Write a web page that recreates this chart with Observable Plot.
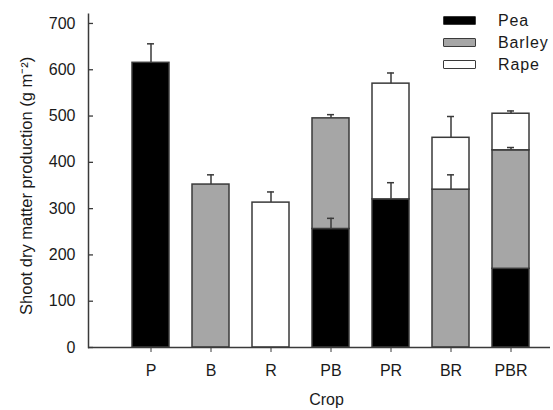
<!DOCTYPE html>
<html><head><meta charset="utf-8">
<script src="https://cdn.jsdelivr.net/npm/d3@7"></script>
<script src="https://cdn.jsdelivr.net/npm/@observablehq/plot@0.6"></script>
<style>
body{margin:0;background:#fff;}
#wrap{position:relative;width:553px;height:410px;font-family:"Liberation Sans",Arial,sans-serif;color:#1a1a1a;}
.sw{position:absolute;left:443px;width:31px;height:7px;border:1.5px solid #3a3a3a;border-radius:1px;}
.lt{position:absolute;left:498px;font-size:16px;line-height:16px;letter-spacing:0.9px;}
</style></head><body><div id="wrap"></div>
<script>
const crops = ["P","B","R","PB","PR","BR","PBR"];
const species = ["Pea","Barley","Rape"];
const colors = ["#000000","#a6a6a6","#ffffff"];
const pea    = [615,   0,   0, 256, 320,   0, 170];
const barley = [  0, 352,   0, 239,   0, 341, 256];
const rape   = [  0,   0, 313,   0, 250, 112,  79];
const peaErr    = [41,  0,  0, 23, 36,  0, 0];
const barleyErr = [ 0, 21,  0,  8,  0, 32, 6];
const rapeErr   = [ 0,  0, 23,  0, 23, 46, 6];
const yTicks = [0,100,200,300,400,500,600,700];

const vals = [pea, barley, rape];
const errsArr = [peaErr, barleyErr, rapeErr];
const segs = [], errs = [];
crops.forEach((c, i) => {
  let cum = 0;
  species.forEach((s, k) => {
    const v = vals[k][i];
    if (v > 0) {
      segs.push({crop: c, species: s, value: v});
      cum += v;
      if (errsArr[k][i] > 0) errs.push({crop: c, top: cum, err: errsArr[k][i]});
    }
  });
});

const W = 553, H = 410, ML = 88, MR = 3;
const stroke = "#3a3a3a";
const chart = Plot.plot({
  width: W, height: H,
  marginLeft: ML, marginRight: MR, marginTop: 13.7, marginBottom: 63,
  style: {fontFamily: "Liberation Sans, Arial, sans-serif", fontSize: "16px", color: "#1a1a1a", background: "#fff"},
  x: {domain: crops, range: [119, 541], paddingInner: 0.39, paddingOuter: 0.195, label: null},
  y: {domain: [0, 720], label: null},
  color: {domain: species, range: colors},
  marks: [
    Plot.barY(segs, {x: "crop", y: "value", fill: "species", stroke: stroke, strokeWidth: 1.5}),
    Plot.ruleX(errs, {x: "crop", y1: "top", y2: d => d.top + d.err, stroke: stroke, strokeWidth: 1.5}),
    Plot.tickY(errs, {x: "crop", y: d => d.top + d.err, insetLeft: 15, insetRight: 15, stroke: stroke, strokeWidth: 1.5}),
    Plot.ruleY(yTicks, {insetRight: W - ML - MR - 5, stroke: stroke, strokeWidth: 1.3}),
    Plot.ruleY([0], {stroke: stroke, strokeWidth: 1.5}),
    Plot.frame({anchor: "left", stroke: stroke, strokeWidth: 1.5}),
    Plot.axisY({ticks: yTicks, tickSize: 0, tickPadding: 13, label: null, fontSize: 16}),
    Plot.axisX({tickSize: 5, tickPadding: 12, label: null, stroke: stroke, fontSize: 16, style: {letterSpacing: "0.6px"}}),
    Plot.text(["Crop"], {frameAnchor: "bottom", dx: 7, dy: 57, fontSize: 16}),
    Plot.text(["Shoot dry matter production (g m\u207B\u00B2)"], {frameAnchor: "left", textAnchor: "middle", rotate: -90, dx: -62, dy: 5, fontSize: 16.5, style: {letterSpacing: "1.45px"}})
  ]
});
const wrap = document.getElementById("wrap");
wrap.appendChild(chart);
const tops = [16, 38, 60];
species.forEach((s, k) => {
  const sw = document.createElement("div");
  sw.className = "sw"; sw.style.top = tops[k] + "px"; sw.style.background = colors[k];
  wrap.appendChild(sw);
  const t = document.createElement("div");
  t.className = "lt"; t.style.top = (tops[k] - 3) + "px"; t.textContent = s;
  wrap.appendChild(t);
});
</script></body></html>
